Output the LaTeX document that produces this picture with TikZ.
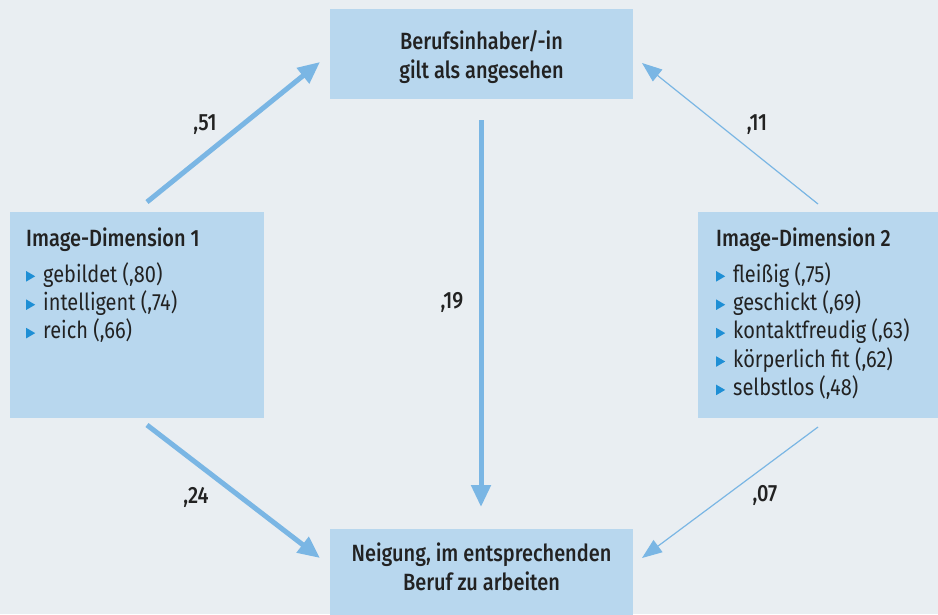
\documentclass[tikz,border=0pt]{standalone}
\usepackage{fontspec}
\setmainfont{Fira Sans}[FakeStretch=0.85]
\newfontfamily\medfont{Fira Sans Medium}[FakeStretch=0.85]
\usetikzlibrary{arrows.meta}
\definecolor{bgc}{HTML}{E9EEF2}
\definecolor{boxc}{HTML}{B8D7EE}
\definecolor{arrc}{HTML}{7AB6E4}
\definecolor{bulc}{HTML}{1E8FD5}
\definecolor{txtc}{HTML}{222222}
\newcommand{\bul}{\tikz[x=1pt,y=1pt,baseline=0pt]\fill[bulc] (0,0.5) -- (0,11) -- (9,5.75) -- cycle;\hspace{8pt}}
\tikzset{
  box/.style={fill=boxc, draw=none, inner sep=0pt},
  txt/.style={text=txtc, inner sep=0pt, font=\fontsize{23.5}{28.4}\selectfont},
  htxt/.style={text=txtc, inner sep=0pt, font=\medfont\fontsize{23.5}{28.4}\selectfont},
  thickarr/.style={draw=arrc, line width=5pt, -{Triangle[length=22pt,width=19pt]}},
  thinarr/.style={draw=arrc, line width=1.2pt, -{Triangle[length=20pt,width=15pt]}},
  lab/.style={text=txtc, inner sep=0pt, font=\medfont\fontsize{23.5}{26}\selectfont}
}
\begin{document}
\begin{tikzpicture}[x=1pt,y=-1pt]
\useasboundingbox (0,0) rectangle (938,614);
\fill[bgc] (0,0) rectangle (938,614);
% boxes
\node[box, minimum width=303pt, minimum height=90pt, anchor=north west] (top) at (330,9) {};
\node[htxt, align=center] (toptext) at (481.5,57) {Berufsinhaber/-in\\gilt als angesehen};
\node[box, minimum width=303pt, minimum height=95pt, anchor=north west] (bot) at (330,529) {};
\node[htxt, align=center] (bottext) at (481.5,567) {Neigung, im entsprechenden\\Beruf zu arbeiten};
\node[box, minimum width=254pt, minimum height=206pt, anchor=north west] (left) at (10,212) {};
\node[box, minimum width=250pt, minimum height=206pt, anchor=north west] (right) at (698,212) {};
% box texts
\node[htxt, anchor=base west] (lh) at (26,246) {Image-Dimension 1};
\node[txt, anchor=north west, align=left] (litems) at (26,262) {\bul gebildet (,80)\\\bul intelligent (,74)\\\bul reich (,66)};
\node[htxt, anchor=base west] (rh) at (716,246) {Image-Dimension 2};
\node[txt, anchor=north west, align=left] (ritems) at (716,262) {\bul fleißig (,75)\\\bul geschickt (,69)\\\bul kontaktfreudig (,63)\\\bul körperlich fit (,62)\\\bul selbstlos (,48)};
% arrow endpoints
\coordinate (a1s) at (147,202); \coordinate (a1e) at (320,62);
\coordinate (a2s) at (818,204); \coordinate (a2e) at (642,63);
\coordinate (a3s) at (481,120); \coordinate (a3e) at (481,507);
\coordinate (a4s) at (147,425); \coordinate (a4e) at (320,558);
\coordinate (a5s) at (818,427); \coordinate (a5e) at (642,558);
\draw[thickarr] (a1s) -- (a1e);
\draw[thinarr] (a2s) -- (a2e);
\draw[thickarr] (a3s) -- (a3e);
\draw[thickarr] (a4s) -- (a4e);
\draw[thinarr] (a5s) -- (a5e);
% labels
\node[lab] (l51) at (205,125) {,51};
\node[lab] (l11) at (757,125) {,11};
\node[lab] (l19) at (452,302) {,19};
\node[lab] (l24) at (196,497) {,24};
\node[lab] (l07) at (765,495) {,07};
\end{tikzpicture}
\end{document}
